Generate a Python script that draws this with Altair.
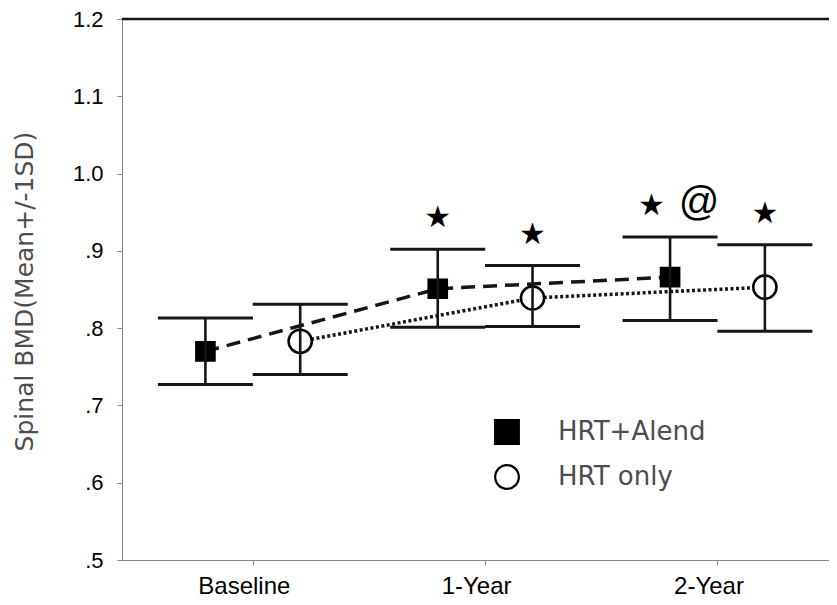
import altair as alt
import pandas as pd

# ---------------- data ----------------
times = ["Baseline", "1-Year", "2-Year"]
groups = ["HRT+Alend", "HRT only"]

alend_mean = [0.770, 0.851, 0.866]
alend_upper = [0.813, 0.902, 0.918]
alend_lower = [0.727, 0.801, 0.810]

only_mean = [0.783, 0.839, 0.853]
only_upper = [0.831, 0.881, 0.908]
only_lower = [0.740, 0.802, 0.796]

star_times = ["1-Year", "1-Year", "2-Year", "2-Year"]
star_groups = ["HRT+Alend", "HRT only", "HRT+Alend", "HRT only"]
star_labels = ["★", "★", "★", "★"]

at_times = ["2-Year"]
at_groups = ["HRT+Alend"]
at_labels = ["@"]

y_ticks = [0.5, 0.6, 0.7, 0.8, 0.9, 1.0, 1.1, 1.2]

# ---------------- tables ----------------
rows = []
for g, means, ups, los in [
    (groups[0], alend_mean, alend_upper, alend_lower),
    (groups[1], only_mean, only_upper, only_lower),
]:
    for i, t in enumerate(times):
        rows.append({"time": t, "idx": i, "group": g,
                     "mean": means[i], "upper": ups[i], "lower": los[i]})
df = pd.DataFrame(rows)

at_pairs = set(zip(at_times, at_groups))


def annot(ts, gs, labels, nudge_if_paired=0.0):
    out = []
    for t, g, lab in zip(ts, gs, labels):
        r = df[(df.time == t) & (df.group == g)].iloc[0]
        out.append({"time": t, "idx": int(r.idx), "group": g,
                    "upper": float(r.upper), "label": lab,
                    "nudge": nudge_if_paired if (t, g) in at_pairs else 0.0})
    return pd.DataFrame(out)


star_df = annot(star_times, star_groups, star_labels, nudge_if_paired=-0.08)
at_df = annot(at_times, at_groups, at_labels, nudge_if_paired=0.125)

# ---------------- styling ----------------
W, H = 707, 541
INK = "#161616"
TXT = "#4d4d4d"
FONT = "DejaVu Sans"
OFF = 0.204
SHAPES = ["square", "circle"]
FILLS = ["#000000", "#ffffff"]

xpos_expr = f"datum.idx + (datum.group === '{groups[0]}' ? -{OFF} : {OFF})"
label_expr_x = "[" + ",".join(f"'{t}'" for t in times) + "][datum.value]"

x_enc = alt.X(
    "xpos:Q",
    scale=alt.Scale(domain=[-0.563, 2.480], nice=False, zero=False),
    axis=alt.Axis(values=[0, 1, 2], labelExpr=label_expr_x, title=None,
                  labelFontSize=24, labelPadding=9, labelOffset=-9, grid=False),
)
y_axis = alt.Axis(
    values=y_ticks,
    labelExpr="datum.value >= 1 ? format(datum.value, '.1f') : replace(format(datum.value, '.1f'), '0.', '.')",
    title="Spinal BMD(Mean+/-1SD)", titleFontSize=25, titleFontWeight="normal",
    titleColor=TXT, titleFont=FONT, titleX=-98, titleY=272, titleBaseline="middle",
    labelFontSize=22, labelPadding=14, grid=False,
)
y_scale = alt.Scale(domain=[0.5, 1.2], nice=False, zero=False)

base = alt.Chart(df).transform_calculate(xpos=xpos_expr)

lines = base.mark_line(color=INK, strokeWidth=3.5).encode(
    x=x_enc,
    y=alt.Y("mean:Q", scale=y_scale, axis=y_axis),
    detail="group:N",
    order="idx:Q",
    strokeDash=alt.StrokeDash("group:N", scale=alt.Scale(domain=groups, range=[[14, 8], [3, 2.5]]), legend=None),
)

points = base.mark_point(strokeWidth=2.5, opacity=1, fillOpacity=1).encode(
    x=x_enc,
    y=alt.Y("mean:Q", scale=y_scale, axis=y_axis),
    shape=alt.Shape("group:N", scale=alt.Scale(domain=groups, range=SHAPES), legend=None),
    fill=alt.Fill("group:N", scale=alt.Scale(domain=groups, range=FILLS), legend=None),
    stroke=alt.value("#000000"),
    size=alt.condition(f"datum.group === '{groups[0]}'", alt.value(330), alt.value(540)),
)

bars = base.mark_rule(color=INK, strokeWidth=2.6).encode(
    x=x_enc,
    y=alt.Y("lower:Q", scale=y_scale, axis=y_axis),
    y2="upper:Q",
)
cap_hi = base.mark_tick(color=INK, opacity=1, orient="horizontal", size=95, thickness=3).encode(
    x=x_enc, y=alt.Y("upper:Q", scale=y_scale, axis=y_axis))
cap_lo = base.mark_tick(color=INK, opacity=1, orient="horizontal", size=95, thickness=3).encode(
    x=x_enc, y=alt.Y("lower:Q", scale=y_scale, axis=y_axis))

stars = alt.Chart(star_df).transform_calculate(xpos=xpos_expr + " + datum.nudge").mark_text(
    font=FONT, fontSize=30, color="#000000", baseline="middle", dy=-31
).encode(x=x_enc, y=alt.Y("upper:Q", scale=y_scale, axis=y_axis), text="label:N")

ats = alt.Chart(at_df).transform_calculate(xpos=xpos_expr + " + datum.nudge").mark_text(
    font="Liberation Sans", fontSize=40, color="#000000", baseline="middle", dy=-34
).encode(x=x_enc, y=alt.Y("upper:Q", scale=y_scale, axis=y_axis), text="label:N")

top_line = alt.Chart(pd.DataFrame({"k": [0]})).mark_rule(color=INK, strokeWidth=2.5).encode(
    x=alt.value(0), x2=alt.value(W), y=alt.value(0))

# in-plot legend (symbol + label per group)
LEG_X, LEG_Y, LEG_STEP = 385, 413, 45
legend_layers = []
for k, g in enumerate(groups):
    ldf = pd.DataFrame({"group": [g]})
    legend_layers.append(
        alt.Chart(ldf).mark_point(shape=SHAPES[k], fill=FILLS[k], stroke="#000000",
                                  strokeWidth=2.2, size=560, opacity=1, fillOpacity=1)
        .encode(x=alt.value(LEG_X), y=alt.value(LEG_Y + k * LEG_STEP))
    )
    legend_layers.append(
        alt.Chart(ldf).mark_text(font=FONT, fontSize=26, color=TXT, align="left", baseline="middle")
        .encode(x=alt.value(LEG_X + 51), y=alt.value(LEG_Y + k * LEG_STEP), text="group:N")
    )

chart = alt.layer(lines, points, bars, cap_hi, cap_lo, stars, ats, top_line, *legend_layers).properties(
    width=W, height=H,
    autosize=alt.AutoSizeParams(type="none"),
    padding={"left": 114, "top": 11, "right": 0, "bottom": 37},
).configure_view(stroke=None).configure_axis(
    domainColor=INK, domainWidth=3, tickColor=INK, tickWidth=5, tickSize=4,
    labelFont=FONT, labelColor=TXT,
).configure(background="#ffffff")

chart.save("out.html", embed_options={"renderer": "svg", "actions": False})
